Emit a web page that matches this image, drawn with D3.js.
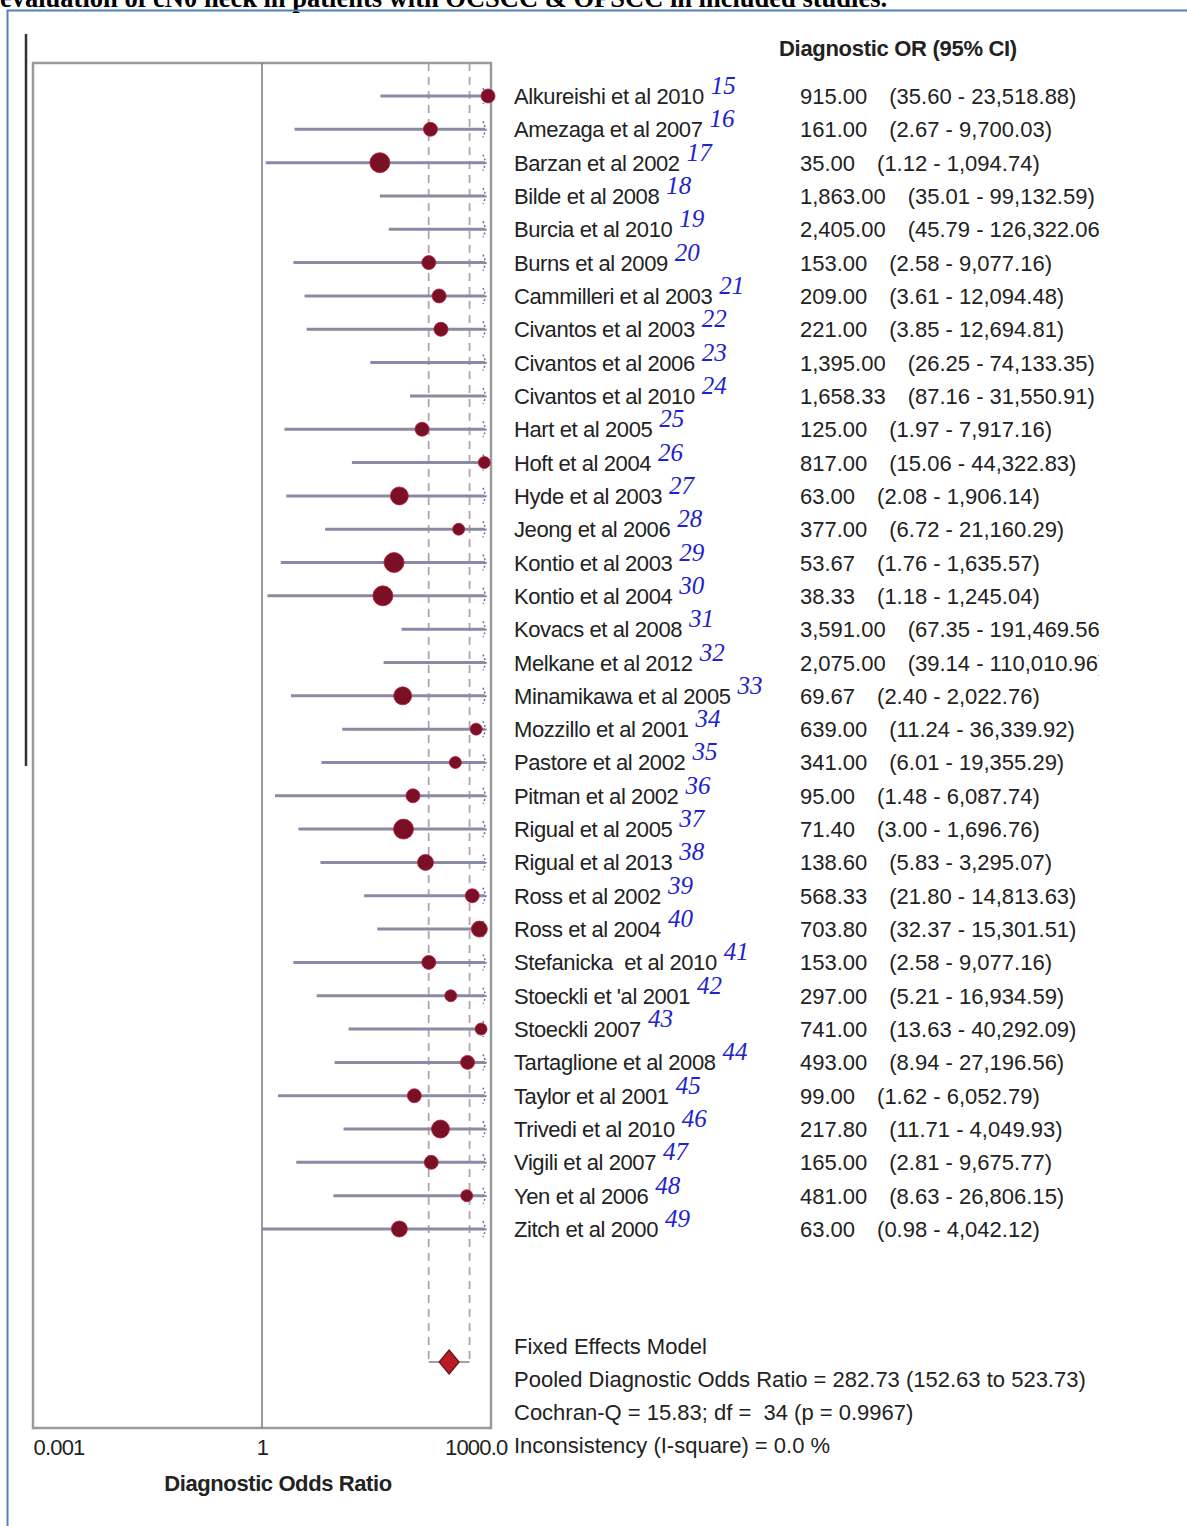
<!DOCTYPE html>
<html>
<head>
<meta charset="utf-8">
<script src="https://cdn.jsdelivr.net/npm/d3@7"></script>
<style>
  body { margin: 0; background: #fff; }
  text { font-family: "Liberation Sans", Arial, sans-serif; fill: #222; white-space: pre; }
</style>
</head>
<body>
<script>
// study rows, top to bottom
const studies = [
  'Alkureishi et al 2010', 'Amezaga et al 2007', 'Barzan et al 2002', 'Bilde et al 2008',
  'Burcia et al 2010', 'Burns et al 2009', 'Cammilleri et al 2003', 'Civantos et al 2003',
  'Civantos et al 2006', 'Civantos et al 2010', 'Hart et al 2005', 'Hoft et al 2004',
  'Hyde et al 2003', 'Jeong et al 2006', 'Kontio et al 2003', 'Kontio et al 2004',
  'Kovacs et al 2008', 'Melkane et al 2012', 'Minamikawa et al 2005', 'Mozzillo et al 2001',
  'Pastore et al 2002', 'Pitman et al 2002', 'Rigual et al 2005', 'Rigual et al 2013',
  'Ross et al 2002', 'Ross et al 2004', 'Stefanicka  et al 2010', "Stoeckli et 'al 2001",
  'Stoeckli 2007', 'Tartaglione et al 2008', 'Taylor et al 2001', 'Trivedi et al 2010',
  'Vigili et al 2007', 'Yen et al 2006', 'Zitch et al 2000'
];
const refs = d3.range(15, 50).map(String);

const dor = [915.00, 161.00, 35.00, 1863.00, 2405.00, 153.00, 209.00, 221.00, 1395.00, 1658.33,
  125.00, 817.00, 63.00, 377.00, 53.67, 38.33, 3591.00, 2075.00, 69.67, 639.00,
  341.00, 95.00, 71.40, 138.60, 568.33, 703.80, 153.00, 297.00, 741.00, 493.00,
  99.00, 217.80, 165.00, 481.00, 63.00];
const lower = [35.60, 2.67, 1.12, 35.01, 45.79, 2.58, 3.61, 3.85, 26.25, 87.16,
  1.97, 15.06, 2.08, 6.72, 1.76, 1.18, 67.35, 39.14, 2.40, 11.24,
  6.01, 1.48, 3.00, 5.83, 21.80, 32.37, 2.58, 5.21, 13.63, 8.94,
  1.62, 11.71, 2.81, 8.63, 0.98];
const upper = [23518.88, 9700.03, 1094.74, 99132.59, 126322.06, 9077.16, 12094.48, 12694.81, 74133.35, 31550.91,
  7917.16, 44322.83, 1906.14, 21160.29, 1635.57, 1245.04, 191469.56, 110010.96, 2022.76, 36339.92,
  19355.29, 6087.74, 1696.76, 3295.07, 14813.63, 15301.51, 9077.16, 16934.59, 40292.09, 27196.56,
  6052.79, 4049.93, 9675.77, 26806.15, 4042.12];
// marker size (relative weight) as drawn
const weight = [7, 7, 10, 7, 7, 7, 7, 7, 7, 7,
  7, 6, 9, 6, 10, 10, 7, 7, 9, 6,
  6, 7, 10, 8, 7, 8, 7, 6, 6, 7,
  7, 9, 7, 6, 8];

const pooled = { est: 282.73, lo: 152.63, hi: 523.73 };
const summaryLines = [
  'Fixed Effects Model',
  'Pooled Diagnostic Odds Ratio = 282.73 (152.63 to 523.73)',
  'Cochran-Q = 15.83; df =  34 (p = 0.9967)',
  'Inconsistency (I-square) = 0.0 %'
];
const tickValues = [0.001, 1, 1000];
const tickLabels = ['0.001', '1', '1000.0'];

const width = 1187,
    height = 1526;

const svg = d3.select('body').append('svg')
    .attr('width', width)
    .attr('height', height);

const x = d3.scaleLog()
    .domain([0.001, 1000])
    .range([33, 491]);

const y = d3.scalePoint()
    .domain(d3.range(studies.length))
    .range([96, 1229]);

const boxTop = 63, boxBottom = 1428, pooledY = 1362;
const fmt = d3.format(',.2f');

// page bits: cropped caption + blue frame
svg.append('text')
    .attr('x', 0)
    .attr('y', 7)
    .style('font-family', '"Liberation Serif", "Times New Roman", serif')
    .style('font-weight', 'bold')
    .style('font-size', '26.5px')
    .style('fill', '#000')
    .text('evaluation of cN0 neck in patients with OCSCC & OPSCC in included studies.');

svg.append('path')
    .attr('d', 'M7.5,' + height + 'V10.5H' + width)
    .attr('fill', 'none')
    .attr('stroke', '#4f81bd')
    .attr('stroke-width', 2);

svg.append('line')
    .attr('x1', 26).attr('x2', 26)
    .attr('y1', 34).attr('y2', 766)
    .attr('stroke', '#333')
    .attr('stroke-width', 2.5);

// plot frame
svg.append('rect')
    .attr('x', x.range()[0])
    .attr('y', boxTop)
    .attr('width', x.range()[1] - x.range()[0])
    .attr('height', boxBottom - boxTop)
    .attr('fill', 'none')
    .attr('stroke', '#9a9a9a')
    .attr('stroke-width', 2.5);

svg.append('line')
    .attr('x1', x(1)).attr('x2', x(1))
    .attr('y1', boxTop).attr('y2', boxBottom)
    .attr('stroke', '#7a7a7a')
    .attr('stroke-width', 1.5);

// pooled CI guide lines
[pooled.lo, pooled.hi].forEach(function (v) {
    svg.append('line')
        .attr('x1', x(v)).attr('x2', x(v))
        .attr('y1', boxTop).attr('y2', pooledY)
        .attr('stroke', '#b3a3b3')
        .attr('stroke-width', 1.8)
        .attr('stroke-dasharray', '8,6');
});
svg.append('line')
    .attr('x1', x(pooled.lo)).attr('x2', x(pooled.hi))
    .attr('y1', pooledY).attr('y2', pooledY)
    .attr('stroke', '#a0a0a8')
    .attr('stroke-width', 2);

// study CIs, clipped at the frame edge
const xEnd = x.range()[1] - 6;
const rows = svg.append('g').attr('class', 'rows');

rows.selectAll('line.ci')
    .data(studies)
    .enter().append('line')
    .attr('class', 'ci')
    .attr('x1', function (d, i) { return Math.max(x(lower[i]), x.range()[0]); })
    .attr('x2', function (d, i) { return Math.min(x(upper[i]), xEnd); })
    .attr('y1', function (d, i) { return y(i); })
    .attr('y2', function (d, i) { return y(i); })
    .attr('stroke', '#8a8aa2')
    .attr('stroke-width', 3);

// arrow ticks where the CI runs off the scale
rows.selectAll('path.arrow')
    .data(studies)
    .enter().append('path')
    .attr('class', 'arrow')
    .attr('d', function (d, i) {
        const yy = y(i);
        return 'M' + (xEnd - 2) + ',' + (yy - 8) + 'L' + (xEnd + 1) + ',' + yy + 'L' + (xEnd - 2) + ',' + (yy + 8);
    })
    .attr('fill', 'none')
    .attr('stroke', '#6c6ca8')
    .attr('stroke-width', 1.5)
    .attr('stroke-dasharray', '2,2');

rows.selectAll('circle')
    .data(studies.filter(function (d, i) { return dor[i] <= 1000; }))
    .enter().append('circle')
    .attr('cx', function (d) { return x(dor[studies.indexOf(d)]); })
    .attr('cy', function (d) { return y(studies.indexOf(d)); })
    .attr('r', function (d) { return weight[studies.indexOf(d)]; })
    .attr('fill', '#7a1026')
    .attr('stroke', '#b81c3c')
    .attr('stroke-width', 0.8);

// pooled diamond
const px = x(pooled.est);
svg.append('path')
    .attr('d', 'M' + px + ',' + (pooledY - 12) + 'L' + (px + 10) + ',' + pooledY +
        'L' + px + ',' + (pooledY + 12) + 'L' + (px - 10) + ',' + pooledY + 'Z')
    .attr('fill', '#b81c26')
    .attr('stroke', '#6a0e1c')
    .attr('stroke-width', 1.2);

// x axis
const axis = svg.append('g')
    .attr('transform', 'translate(0,' + (boxBottom + 4) + ')')
    .call(d3.axisBottom(x)
        .tickValues(tickValues)
        .tickSize(0)
        .tickFormat(function (d, i) { return tickLabels[i]; }));
axis.select('.domain').remove();
axis.selectAll('text')
    .attr('y', 4)
    .attr('dy', '0.85em')
    .style('font-family', '"Liberation Sans", Arial, sans-serif')
    .style('font-size', '22px')
    .style('letter-spacing', '-0.8px')
    .style('fill', '#222')
    .attr('text-anchor', function (d, i) { return i === 0 ? 'start' : (i === 2 ? 'end' : 'middle'); })
    .attr('dx', function (d, i) { return i === 2 ? 16 : 0; });

svg.append('text')
    .attr('x', 278)
    .attr('y', 1491)
    .attr('text-anchor', 'middle')
    .style('font-weight', 'bold')
    .style('font-size', '22px')
    .style('letter-spacing', '-0.4px')
    .text('Diagnostic Odds Ratio');

// header
svg.append('text')
    .attr('x', 779)
    .attr('y', 56)
    .style('font-weight', 'bold')
    .style('font-size', '22px')
    .style('letter-spacing', '-0.3px')
    .text('Diagnostic OR (95% CI)');

// study labels with reference numbers
const labels = svg.append('g').selectAll('text')
    .data(studies)
    .enter().append('text')
    .attr('x', 514)
    .attr('y', function (d, i) { return y(i) + 8; })
    .style('font-size', '22px')
    .style('letter-spacing', '-0.4px');
labels.append('tspan').text(function (d) { return d; });
labels.append('tspan')
    .attr('dx', 7)
    .attr('dy', -10)
    .style('font-family', '"Liberation Serif", "Times New Roman", serif')
    .style('font-style', 'italic')
    .style('font-size', '25px')
    .style('letter-spacing', '0px')
    .style('fill', '#2222cc')
    .text(function (d, i) { return refs[i]; });

// estimates column, cropped at the right like the source
svg.append('clipPath').attr('id', 'numclip')
    .append('rect').attr('x', 0).attr('y', 0).attr('width', 1099).attr('height', height);

const nums = svg.append('g')
    .attr('clip-path', 'url(#numclip)')
    .selectAll('text')
    .data(studies)
    .enter().append('text')
    .attr('x', 800)
    .attr('y', function (d, i) { return y(i) + 8; })
    .style('font-size', '22px')
    .style('letter-spacing', '0px');
nums.append('tspan').text(function (d, i) { return fmt(dor[i]); });
nums.append('tspan')
    .attr('dx', 22)
    .text(function (d, i) { return '(' + fmt(lower[i]) + ' - ' + fmt(upper[i]) + ')'; });

// summary block
svg.append('g').selectAll('text')
    .data(summaryLines)
    .enter().append('text')
    .attr('x', 514)
    .attr('y', function (d, i) { return 1354 + i * 33; })
    .style('font-size', '22px')
    .style('letter-spacing', '0px')
    .text(function (d) { return d; });
</script>
</body>
</html>
